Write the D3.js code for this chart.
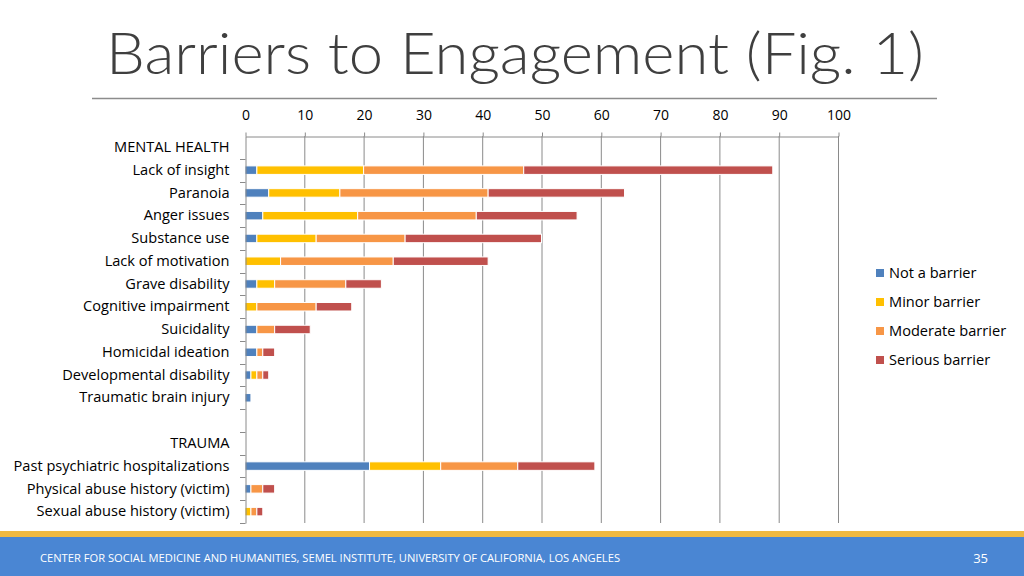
<!DOCTYPE html>
<html>
<head>
<meta charset="utf-8">
<script src="https://cdn.jsdelivr.net/npm/d3@7"></script>
<style>
  html, body { margin: 0; padding: 0; background: #fff; }
  svg { display: block; }
</style>
</head>
<body>
<svg id="chart" width="1024" height="576"></svg>
<script>
const title = "Barriers to Engagement (Fig. 1)";
const footerText = "CENTER FOR SOCIAL MEDICINE AND HUMANITIES, SEMEL INSTITUTE, UNIVERSITY OF CALIFORNIA, LOS ANGELES";
const pageNumber = "35";

const categories = [
  "MENTAL HEALTH", "Lack of insight", "Paranoia", "Anger issues", "Substance use",
  "Lack of motivation", "Grave disability", "Cognitive impairment", "Suicidality",
  "Homicidal ideation", "Developmental disability", "Traumatic brain injury", "",
  "TRAUMA", "Past psychiatric hospitalizations", "Physical abuse history (victim)",
  "Sexual abuse history (victim)"
];
const seriesNames = ["Not a barrier", "Minor barrier", "Moderate barrier", "Serious barrier"];
const notBarrier = [0, 2, 4, 3, 2, 0, 2, 0, 2, 2, 1, 1, 0, 0, 21, 1, 0];
const minorBarrier = [0, 18, 12, 16, 10, 6, 3, 2, 0, 0, 1, 0, 0, 0, 12, 0, 1];
const moderateBarrier = [0, 27, 25, 20, 15, 19, 12, 10, 3, 1, 1, 0, 0, 0, 13, 2, 1];
const seriousBarrier = [0, 42, 23, 17, 23, 16, 6, 6, 6, 2, 1, 0, 0, 0, 13, 2, 1];
const xTicks = [0, 10, 20, 30, 40, 50, 60, 70, 80, 90, 100];
const colors = ["#4F81BD", "#FFC000", "#F79646", "#C0504D"];

const svg = d3.select("#chart");
const font = "'Open Sans', sans-serif";

// Title
svg.append("text")
  .attr("x", 106).attr("y", 74)
  .attr("font-family", "Lato, 'Open Sans', sans-serif")
  .attr("font-weight", 300)
  .attr("font-size", 57)
  .attr("fill", "#3f3f3f")
  .attr("textLength", 818)
  .attr("lengthAdjust", "spacingAndGlyphs")
  .text(title);
svg.append("line")
  .attr("x1", 92).attr("x2", 937).attr("y1", 98.5).attr("y2", 98.5)
  .attr("stroke", "#8c8c8c").attr("stroke-width", 1.5);

// Scales
const x = d3.scaleLinear().domain([0, 100]).range([245, 838]);
const y = d3.scaleBand().domain(categories).range([136, 523]);

const data = categories.map((c, i) => ({
  cat: c,
  "Not a barrier": notBarrier[i],
  "Minor barrier": minorBarrier[i],
  "Moderate barrier": moderateBarrier[i],
  "Serious barrier": seriousBarrier[i]
}));
const stacked = d3.stack().keys(seriesNames)(data);

// gridlines
svg.append("g").selectAll("line").data(xTicks.slice(1)).join("line")
  .attr("x1", d => x(d) + 0.5).attr("x2", d => x(d) + 0.5)
  .attr("y1", 136).attr("y2", 523)
  .attr("stroke", "#8a8a8a").attr("stroke-width", 1);

// Top axis
const topAxis = svg.append("g").attr("transform", "translate(0.5,136.5)")
  .call(d3.axisTop(x).tickValues(xTicks).tickSizeInner(4).tickSizeOuter(0).tickPadding(13));
topAxis.select(".domain").attr("stroke", "#8a8a8a");
topAxis.selectAll(".tick line").attr("stroke", "#8a8a8a");
topAxis.selectAll("text").attr("font-family", font).attr("font-size", 14).attr("fill", "#000");

// Bars
const barH = 8.5;
svg.append("g").selectAll("g").data(stacked).join("g")
  .attr("fill", (d, i) => colors[i])
  .selectAll("rect").data(d => d.filter(s => s[1] - s[0] > 0)).join("rect")
  .attr("x", d => x(d[0]))
  .attr("width", d => x(d[1]) - x(d[0]))
  .attr("y", d => y(d.data.cat) + y.bandwidth() / 2 - barH / 2)
  .attr("height", barH)
  .attr("stroke", "#fff").attr("stroke-width", 1);

// Left axis
const leftAxis = svg.append("g").attr("transform", "translate(245.5,0)")
  .call(d3.axisLeft(y).tickSize(0).tickPadding(16));
leftAxis.select(".domain").attr("stroke", "#8a8a8a");
leftAxis.selectAll("text").attr("font-family", font).attr("font-size", 14.6).attr("fill", "#000");
const edges = categories.map(c => y(c) + y.bandwidth());
svg.append("g").selectAll("line").data(edges).join("line")
  .attr("x1", 240).attr("x2", 245.5)
  .attr("y1", d => Math.round(d) + 0.5).attr("y2", d => Math.round(d) + 0.5)
  .attr("stroke", "#8a8a8a");

// Legend
const legend = svg.append("g").selectAll("g").data(seriesNames).join("g")
  .attr("transform", (d, i) => `translate(876,${273 + i * 29})`);
legend.append("rect").attr("x", 0).attr("y", -4).attr("width", 8).attr("height", 8)
  .attr("fill", (d, i) => colors[i]);
legend.append("text").attr("x", 13).attr("y", 0).attr("dy", "0.35em")
  .attr("font-family", font).attr("font-size", 14.6).attr("fill", "#000")
  .text(d => d);

// Footer
svg.append("rect").attr("x", 0).attr("y", 531).attr("width", 1024).attr("height", 6).attr("fill", "#EFB941");
svg.append("rect").attr("x", 0).attr("y", 537).attr("width", 1024).attr("height", 39).attr("fill", "#4A86D3");
svg.append("text").attr("x", 40).attr("y", 558).attr("dy", "0.35em")
  .attr("font-family", font).attr("font-size", 11).attr("fill", "#fff")
  .attr("textLength", 580).attr("lengthAdjust", "spacingAndGlyphs")
  .text(footerText);
svg.append("text").attr("x", 988).attr("y", 558).attr("dy", "0.35em").attr("text-anchor", "end")
  .attr("font-family", font).attr("font-size", 13).attr("fill", "#fff")
  .text(pageNumber);
</script>
</body>
</html>
